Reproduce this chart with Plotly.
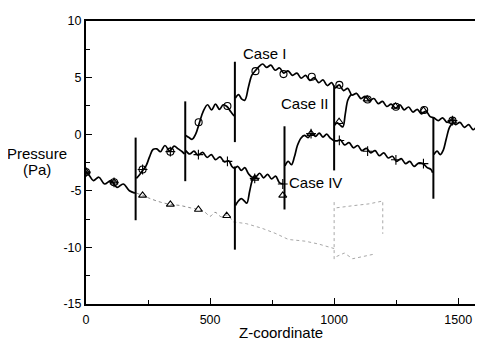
import plotly.graph_objects as go

# ---------------- data ----------------
# Case I (circles) - continuous pieces separated by None
case1_x = [0, 15, 30, 52, 75, 100, 125, 150, 175, 197, None,
           203, 215, 228, 242, 256, 270, 285, 300, 318, 338, 355, 372, 388, 397, None,
           402, 415, 428, 442, 457, 472, 490, 506, 522, 538, 553, 568, 583, 597, None,
           602, 615, 628, 640, 655, 668, 682, 696, 712, 728, 745, 762, 780, 797, 814, 832, 850, 867, 885, 902,
           920, 938, 955, 972, 990, 1005, 1020, 1038, 1055, 1072, 1090, 1108, 1125, 1142, 1160, 1178, 1195, 1212, 1230, 1248,
           1265, 1282, 1300, 1318, 1335, 1352, 1370, 1387, 1402, 1420, 1437, 1455, 1472, 1490, 1507, 1525, 1542, 1560, 1577, 1594, 1600]
case1_y = [-3.3, -3.7, -4.1, -3.8, -4.4, -4.1, -4.7, -4.4, -5.0, -5.2, None,
           -3.9, -3.6, -3.2, -2.8, -2.0, -1.35, -1.3, -1.55, -1.0, -1.5, -1.05, -1.3, -1.55, -1.75, None,
           -0.1, -0.3, -0.45, 0.0, 1.0, 2.0, 2.6, 2.15, 2.65, 2.2, 2.6, 2.45, 2.0, 1.6, None,
           3.2, 3.5, 3.1, 3.0, 4.2, 5.2, 5.6, 5.95, 6.2, 5.9, 6.1, 5.65, 5.85, 5.4, 5.6, 5.2, 5.4, 4.95, 5.2, 4.75,
           5.0, 4.55, 4.8, 4.3, 4.55, 4.1, 4.35, 3.85, 4.05, 3.45, 3.6, 3.15, 3.35, 2.95, 3.15, 2.7, 2.9, 2.45, 2.65, 2.3,
           2.6, 2.15, 2.4, 1.95, 2.2, 1.8, 2.05, 1.55, 1.45, 1.2, 1.45, 1.05, 1.25, 0.85, 1.05, 0.6, 0.85, 0.4, 0.65, 0.15, 0.25]

# Case IV (plus) - branch leaving Case I at z=400
case4_x = [402, 418, 435, 452, 470, 488, 505, 522, 540, 558, 575, 588, 598,
           612, 626, 640, 655, 670, 685, 700, 716, 732, 748, 764, 780, 795, None,
           802, 815, 828, 840, 852, 866, 880, 895, 910, 925, 940, 955, 970, 985, 998,
           1010, 1025, 1042, 1060, 1078, 1095, 1112, 1130, 1148, 1165, 1182, 1200, 1218, 1235, 1252, 1270, 1288, 1305,
           1322, 1340, 1358, 1375, 1390, 1397, None,
           1402, 1415, 1428, 1440, 1452, 1465, 1478]
case4_y = [-1.45, -1.75, -1.5, -1.85, -1.6, -2.05, -1.8, -2.25, -2.0, -2.45, -2.35, -2.85, -3.0,
           -2.85, -3.2, -2.95, -3.5, -3.8, -3.75, -3.45, -3.85, -3.55, -3.95, -3.7, -4.3, -4.4, None,
           -2.8, -2.4, -2.7, -2.0, -1.0, -0.35, -0.1, -0.3, 0.05, -0.2, 0.1, -0.25, 0.0, -0.35, -0.55,
           -0.6, -0.5, -0.95, -0.75, -1.2, -1.0, -1.45, -1.25, -1.65, -1.45, -1.9, -1.65, -2.1, -1.95, -2.4, -2.15, -2.6, -2.4,
           -2.85, -2.55, -2.6, -2.95, -3.1, -3.4, None,
           -1.8, -1.5, -1.8, -1.4, -0.4, 0.6, 1.0]

# Case II (triangles) - faint dotted part and its solid branches
case2_dot_x = [203, 228, 260, 300, 340, 380, 420, 453, 480, 500, 520, 545, 567, 594]
case2_dot_y = [-5.2, -5.4, -5.7, -6.0, -6.2, -6.3, -6.5, -6.65, -6.9, -7.25, -6.9, -7.3, -7.15, -7.75]
case2_x = [602, 614, 626, 638, 648, 660, 672, 685, None,
           1002, 1012, 1022, 1035, 1045, 1055, 1068]
case2_y = [-6.3, -5.9, -5.7, -5.9, -6.1, -5.0, -4.0, -3.75, None,
           0.8, 1.0, 0.85, 0.65, 1.8, 3.0, 3.5]

# faint dotted remnants (lower curve)
case3_x = [594, 646, 708, 762, 816, 883, 937, 984, 1000, None, 1000, 1000, None,
           1010, 1040, 1082, 1142, 1196, 1196, None, 1010, 1041, 1075, 1120, 1160]
case3_y = [-7.75, -7.9, -8.3, -8.75, -9.3, -9.45, -9.7, -10.0, -10.1, None, -6.0, -11.3, None,
           -6.5, -6.4, -6.3, -6.15, -5.9, -8.8, None, -10.8, -10.5, -11.0, -10.8, -10.6]

# spikes at the discontinuities (z, low, high)
spike_z = [200, 400, 600, 600, 800, 1000, 1400]
spike_lo = [-7.6, -4.15, -0.7, -10.2, -6.65, -3.2, -5.7]
spike_hi = [-0.3, 2.9, 6.4, -2.85, 0.7, 4.3, 1.5]

# markers
case1_mx = [0, 113, 228, 340, 454, 570, 683, 796, 910, 1021, 1135, 1249, 1363, 1477, 1588]
case1_my = [-3.35, -4.25, -3.12, -1.54, 1.05, 2.49, 5.57, 5.31, 5.08, 4.36, 3.07, 2.43, 2.14, 1.2, 0.19]
case2_mx = [0, 113, 228, 340, 453, 567, 680, 793, 907, 1020, 1133, 1247, 1360, 1477, 1588]
case2_my = [-3.35, -4.25, -5.4, -6.2, -6.65, -7.2, -3.9, -5.4, 0.05, 1.1, 3.1, 2.45, 2.1, 1.15, 0.2]
case4_mx = [0, 113, 228, 340, 453, 570, 680, 793, 907, 1021, 1135, 1249, 1360, 1477, 1588]
case4_my = [-3.35, -4.25, -3.12, -1.54, -1.8, -2.4, -3.9, -4.4, 0.05, -0.55, -1.5, -2.26, -2.6, 1.2, 0.19]

x_ticks = [0, 500, 1000, 1500]
x_ticktext = ["0", "500", "1000", "1500"]
y_ticks = [-15, -10, -5, 0, 5, 10]
y_ticktext = ["-15", "-10", "-5", "0", "5", "10"]

labels = ["Case I", "Case II", "Case IV"]
label_x = [718, 884, 924]
label_y = [7.12, 2.75, -4.3]

FONT = "Liberation Sans, Arial, sans-serif"

# ---------------- figure ----------------
fig = go.Figure()

fig.add_trace(go.Scatter(x=case3_x, y=case3_y, mode="lines",
                         line=dict(color="#a8a8a8", width=1, dash="dot")))
fig.add_trace(go.Scatter(x=case2_dot_x, y=case2_dot_y, mode="lines",
                         line=dict(color="#8a8a8a", width=1, dash="dot", shape="spline")))

sx, sy = [], []
for z, lo, hi in zip(spike_z, spike_lo, spike_hi):
    sx += [z, z, None]
    sy += [lo, hi, None]
fig.add_trace(go.Scatter(x=sx, y=sy, mode="lines", line=dict(color="black", width=2)))

for xs, ys in [(case1_x, case1_y), (case4_x, case4_y), (case2_x, case2_y)]:
    fig.add_trace(go.Scatter(x=xs, y=ys, mode="lines",
                             line=dict(color="black", width=1.7, shape="spline", smoothing=1.0)))

fig.add_trace(go.Scatter(x=case1_mx, y=case1_my, mode="markers",
                         marker=dict(symbol="circle-open", size=7, color="black", line=dict(width=1.1))))
fig.add_trace(go.Scatter(x=case2_mx, y=case2_my, mode="markers",
                         marker=dict(symbol="triangle-up-open", size=7, color="black", line=dict(width=1.1))))
fig.add_trace(go.Scatter(x=case4_mx, y=case4_my, mode="markers",
                         marker=dict(symbol="cross-thin-open", size=7, color="black", line=dict(width=1.1))))

for t, lx, ly in zip(labels, label_x, label_y):
    fig.add_annotation(x=lx, y=ly, text=t, showarrow=False,
                       font=dict(family=FONT, size=15, color="black"),
                       xanchor="center", yanchor="middle")

fig.add_annotation(xref="x", yref="paper", x=787, y=-0.1, text="Z-coordinate", showarrow=False,
                   font=dict(family=FONT, size=15, color="black"), xanchor="center", yanchor="middle")
fig.add_annotation(xref="paper", yref="y", x=-0.123, y=-1.68, text="Pressure", showarrow=False,
                   font=dict(family=FONT, size=15, color="black"), xanchor="center", yanchor="middle")
fig.add_annotation(xref="paper", yref="y", x=-0.123, y=-3.15, text="(Pa)", showarrow=False,
                   font=dict(family=FONT, size=15, color="black"), xanchor="center", yanchor="middle")

axis_common = dict(showline=True, linewidth=2, linecolor="black", mirror=True,
                   showgrid=False, zeroline=False, ticks="inside", ticklen=6, tickwidth=1.3,
                   tickcolor="black", tickfont=dict(family=FONT, size=12.5, color="black"))
fig.update_xaxes(range=[0, 1600], tickvals=x_ticks, ticktext=x_ticktext, ticklabelstandoff=3,
                 minor=dict(dtick=250, ticks="inside", ticklen=4, tickcolor="black"),
                 **axis_common)
fig.update_yaxes(range=[-15, 10], tickvals=y_ticks, ticktext=y_ticktext,
                 minor=dict(dtick=2.5, ticks="inside", ticklen=4, tickcolor="black"),
                 **axis_common)

# the page adds an 8 px body margin; margins are chosen so the plot box lands
# at x 86..483, y 14..304 in the 483x350 window
fig.update_layout(width=483, height=350, margin=dict(l=78, r=8, t=6, b=54),
                  paper_bgcolor="white", plot_bgcolor="white", showlegend=False)

fig.write_html("out.html")
